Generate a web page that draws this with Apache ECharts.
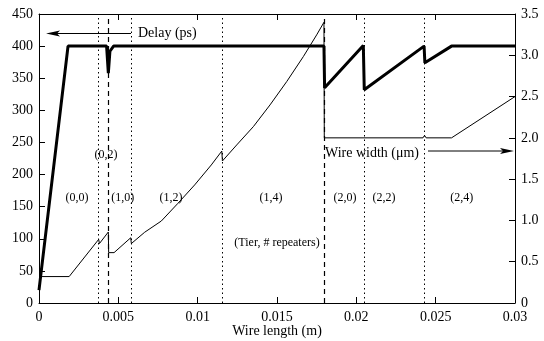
<!DOCTYPE html>
<html>
<head>
<meta charset="utf-8">
<script src="https://cdn.jsdelivr.net/npm/echarts@6/dist/echarts.min.js"></script>
<style>html,body{margin:0;padding:0;background:#fff}#c{width:544px;height:341px}</style>
</head>
<body>
<div id="c"></div>
<script>
// Delay (ps), left axis
const delayX = [0, 0.00183, 0.00426, 0.00437, 0.00447, 0.0047, 0.01796, 0.01800, 0.02044, 0.02050, 0.02427, 0.02432, 0.0260, 0.0300];
const delayY = [20, 400, 400, 358, 392, 400, 400, 335, 401, 332, 400, 374, 400, 400];
// Wire width (um), right axis
const widthX = [0, 0.0019, 0.00376, 0.00381, 0.00437, 0.00439, 0.00473, 0.00578, 0.00582, 0.00666, 0.00771, 0.00876, 0.00981, 0.01086, 0.01152, 0.01156, 0.01246, 0.01351, 0.01456, 0.01561, 0.01666, 0.0175, 0.01796, 0.01798, 0.0242, 0.0243, 0.0244, 0.0260, 0.0300];
const widthY = [0.32, 0.32, 0.77, 0.72, 0.86, 0.61, 0.61, 0.79, 0.72, 0.857, 0.993, 1.208, 1.43, 1.672, 1.84, 1.72, 1.914, 2.136, 2.399, 2.681, 2.984, 3.247, 3.40, 2.00, 2.00, 2.03, 2.00, 2.00, 2.50];
// region boundaries
const dottedX = [0.00376, 0.0058, 0.01152, 0.02048, 0.02429];
const dashedX = [0.00438, 0.0180];
// region labels (tier, # repeaters) and their data positions
const regionText = ['(0,0)', '(0,2)', '(1,0)', '(1,2)', '(1,4)', '(2,0)', '(2,2)', '(2,4)', '(Tier, # repeaters)'];
const regionX = [0.00240, 0.00423, 0.00528, 0.00832, 0.01462, 0.01928, 0.02175, 0.02664, 0.01500];
const regionY = [163, 231, 163, 163, 163, 163, 163, 163, 93];

const F = 'Liberation Serif, Times New Roman, serif';
const chart = echarts.init(document.getElementById('c'));
const mkLine = () => ({show: true, onZero: false, lineStyle: {color: '#000', width: 1}});
const mkTick = () => ({show: true, inside: true, length: 6, lineStyle: {color: '#000', width: 1}});
const option = {
  animation: false,
  grid: {left: 39, right: 29, top: 14, bottom: 38, containLabel: false, outerBoundsMode: 'none'},
  xAxis: [{
    type: 'value', min: 0, max: 0.03, interval: 0.005, position: 'bottom',
    axisLine: mkLine(), axisTick: mkTick(), splitLine: {show: false},
    axisLabel: {fontFamily: F, fontSize: 14, color: '#000', margin: 7,
      formatter: v => v === 0 ? '0' : String(+v.toFixed(3))},
    name: 'Wire length (m)', nameLocation: 'middle', nameGap: 21, nameMoveOverlap: false,
    nameTextStyle: {fontFamily: F, fontSize: 14, color: '#000'}
  }, {
    type: 'value', min: 0, max: 0.03, interval: 0.005, position: 'top',
    axisLine: mkLine(), axisTick: mkTick(), splitLine: {show: false},
    axisLabel: {show: false}
  }],
  yAxis: [{
    type: 'value', min: 0, max: 450, interval: 50, position: 'left',
    axisLine: mkLine(), axisTick: mkTick(), splitLine: {show: false},
    axisLabel: {fontFamily: F, fontSize: 14, color: '#000', margin: 6}
  }, {
    type: 'value', min: 0, max: 3.5, interval: 0.5, position: 'right',
    axisLine: mkLine(), axisTick: mkTick(), splitLine: {show: false},
    axisLabel: {fontFamily: F, fontSize: 14, color: '#000', margin: 6,
      formatter: v => v === 0 ? '0' : v.toFixed(1)}
  }],
  series: [{
    name: 'Delay (ps)', type: 'line', xAxisIndex: 0, yAxisIndex: 0,
    data: delayX.map((x, i) => [x, delayY[i]]),
    symbol: 'none', lineStyle: {color: '#000', width: 3}, z: 5,
    markLine: {
      silent: true, symbol: 'none', label: {show: false}, precision: 8,
      data: dottedX.map(x => ({xAxis: x, lineStyle: {type: [1.5, 3], color: '#000', width: 1}}))
        .concat(dashedX.map(x => ({xAxis: x, lineStyle: {type: [5, 4], color: '#000', width: 1.2}})))
    }
  }, {
    name: 'Wire width (um)', type: 'line', xAxisIndex: 1, yAxisIndex: 1,
    data: widthX.map((x, i) => [x, widthY[i]]),
    symbol: 'none', smooth: false, lineStyle: {color: '#000', width: 1}, z: 4
  }]
};
chart.setOption(option);

const g = [];
regionText.forEach((t, i) => {
  const p = chart.convertToPixel({xAxisIndex: 0, yAxisIndex: 0}, [regionX[i], regionY[i]]);
  g.push({type: 'text', x: p[0], y: p[1], z: 10,
    style: {text: t, fontFamily: F, fontSize: 12, fill: '#000', align: 'center', verticalAlign: 'middle'}});
});
// Delay annotation with arrow to the left axis
g.push({type: 'text', x: 138, y: 33, z: 10,
  style: {text: 'Delay (ps)', fontFamily: F, fontSize: 14, fill: '#000', align: 'left', verticalAlign: 'middle'}});
g.push({type: 'line', z: 10, shape: {x1: 56, y1: 33.5, x2: 131, y2: 33.5}, style: {stroke: '#000', lineWidth: 1}});
g.push({type: 'polygon', z: 10, shape: {points: [[46, 33.5], [60, 30.5], [57, 33.5], [60, 36.5]]}, style: {fill: '#000'}});
// Wire width annotation with arrow to the right axis
g.push({type: 'text', x: 325, y: 153, z: 10,
  style: {text: 'Wire width (μm)', fontFamily: F, fontSize: 14, fill: '#000', align: 'left', verticalAlign: 'middle'}});
g.push({type: 'line', z: 10, shape: {x1: 428, y1: 151, x2: 504, y2: 151}, style: {stroke: '#000', lineWidth: 1}});
g.push({type: 'polygon', z: 10, shape: {points: [[514, 151], [500, 148], [503, 151], [500, 154]]}, style: {fill: '#000'}});
chart.setOption({graphic: g});
</script>
</body>
</html>
